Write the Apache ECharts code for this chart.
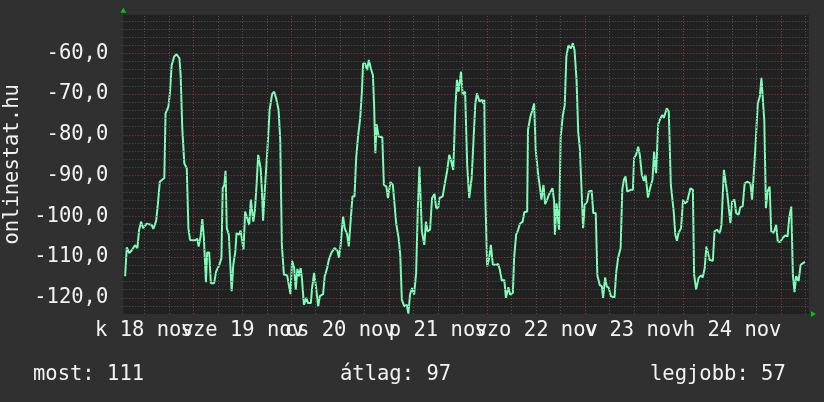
<!DOCTYPE html>
<html><head><meta charset="utf-8">
<script src="https://cdn.jsdelivr.net/npm/echarts@6/dist/echarts.min.js"></script>
<style>html,body{margin:0;padding:0;background:#303030}#c{width:824px;height:402px}</style>
</head><body><div id="c"></div>
<script>
// time in hours since midnight of 18 nov
const hours = [
-16.7,-16.3,-15.7,-15.1,-14.3,-13.7,-13.3,-12.8,-12.3,-11.4,-10.2,-9.8,-9.1,-8.7,-8.2,-7.1,-6.8,-6.1,-5.7,-5.3,-4.7,-4.1,-3.4,-3.1,-2.7,-2.2,-1.6,-1.2,-0.8,0.4,1.0,1.3,1.8,2.2,2.6,3.1,3.4,3.9,4.3,5.1,5.6,6.4,6.9,7.2,7.6,7.9,8.2,8.7,9.4,9.8,10.3,10.6,11.2,11.6,12.3,12.7,13.2,13.7,14.1,14.7,15.1,15.5,
15.9,16.5,16.8,17.1,17.5,17.9,18.3,18.7,19.3,19.8,20.3,20.9,21.3,21.7,22.2,23.0,23.4,23.8,24.2,24.7,25.1,25.5,25.9,26.3,26.6,27.1,27.7,28.1,28.8,29.1,29.6,30.0,30.6,31.0,31.8,32.2,32.8,33.2,33.8,34.6,35.3,35.7,36.1,36.7,37.1,37.7,38.1,38.6,39.0,39.5,39.9,40.4,40.9,41.3,41.6,42.1,42.6,43.0,43.5,44.0,44.3,44.6,44.9,45.4,46.3,46.7,47.3,47.7,48.3,48.9,
49.7,50.3,50.7,51.1,51.7,52.3,52.7,53.1,53.6,54.1,54.6,55.0,55.4,55.6,56.0,56.6,57.0,57.4,58.0,58.5,59.1,59.5,60.0,60.3,61.1,61.7,62.2,62.7,63.1,63.7,64.2,64.6,65.0,65.6,66.0,66.6,67.1,67.6,68.2,68.7,69.1,69.5,70.1,70.7,71.1,71.3,71.5,72.0,72.5,72.9,73.4,74.2,74.7,75.1,75.6,76.2,76.6,77.2,77.6,78.3,78.6,79.1,79.6,80.0,80.7,81.1,81.8,82.0,82.6,83.2,
83.5,83.9,84.5,84.9,85.3,85.8,86.2,86.7,87.1,88.0,88.4,88.6,89.0,89.4,89.6,90.0,90.5,91.0,91.4,91.9,92.5,93.0,93.4,93.9,94.3,94.7,95.1,95.5,95.9,96.5,96.9,97.6,98.0,98.6,99.0,99.6,100.1,100.4,100.9,101.3,101.8,102.3,103.2,103.6,104.1,104.7,105.1,105.5,105.9,106.3,107.2,107.7,108.0,108.5,109.0,109.4,109.9,110.4,110.8,111.4,111.9,112.5,112.9,113.1,113.4,113.9,114.3,114.9,115.3,116.0,116.5,117.0,
117.3,117.7,118.1,118.5,118.9,119.5,120.0,120.4,121.0,121.4,121.8,122.4,122.7,123.2,123.8,124.4,124.8,125.3,125.7,126.1,126.5,127.3,127.7,128.3,129.0,129.4,129.8,130.0,130.3,130.8,131.2,131.6,132.0,132.6,133.0,133.6,134.0,134.6,135.1,135.7,136.5,136.9,137.3,137.7,138.3,138.8,139.2,139.6,139.9,140.3,140.7,141.2,141.6,142.2,142.8,143.2,143.8,144.4,145.0,145.6,146.0,146.5,146.9,147.3,147.7,148.3,148.8,149.4,149.9
];
const signal = [
-114.7,-107.6,-109.0,-108.4,-107.1,-107.8,-103.5,-101.3,-102.9,-101.8,-102.1,-103.1,-101.1,-97.2,-91.5,-90.6,-74.7,-73.1,-69.4,-62.9,-60.8,-60.2,-61.2,-65.3,-78.4,-87.0,-88.2,-102.9,-105.8,-105.9,-105.5,-107.4,-104.9,-100.7,-105.3,-116.2,-108.9,-108.9,-116.4,-116.4,-113.5,-111.9,-110.2,-93.1,-92.3,-88.8,-102.9,-104.5,-118.4,-111.9,-108.6,-104.1,-104.5,-103.5,-108.2,-98.8,-100.4,-102.1,-95.9,-101.3,-98.4,-92.3,
-84.9,-88.2,-93.5,-101.1,-93.9,-93.5,-81.2,-73.9,-70.0,-69.4,-71.0,-73.9,-81.2,-107.0,-114.3,-114.5,-116.8,-119.1,-110.9,-112.5,-118.0,-112.9,-114.7,-112.7,-115.1,-121.7,-120.0,-121.3,-121.3,-117.6,-113.9,-116.8,-122.1,-119.6,-119.1,-114.7,-112.7,-110.7,-109.0,-107.8,-108.4,-110.2,-107.0,-100.0,-102.9,-104.5,-107.4,-100.4,-95.1,-95.1,-85.7,-80.0,-75.9,-69.4,-62.5,-62.5,-64.1,-61.6,-63.7,-65.3,-72.7,-84.5,-77.4,-80.4,-80.6,-92.3,-92.7,-95.5,-91.6,-92.3,
-101.7,-105.3,-109.4,-120.5,-122.1,-121.7,-123.9,-119.2,-117.6,-119.2,-113.9,-98.4,-87.8,-87.8,-103.7,-107.0,-101.3,-103.7,-103.3,-95.5,-94.5,-98.0,-98.0,-95.5,-95.1,-91.5,-88.8,-84.9,-86.1,-88.6,-73.5,-66.5,-69.4,-64.5,-70.2,-69.4,-87.4,-95.5,-90.6,-80.4,-72.3,-69.8,-71.8,-71.4,-72.3,-71.4,-93.5,-112.3,-110.2,-107.0,-111.9,-111.9,-111.7,-113.1,-115.8,-115.6,-120.0,-117.4,-119.2,-118.8,-110.2,-104.5,-103.3,-101.9,-101.3,-99.0,-98.8,-78.8,-75.5,-73.5,
-72.3,-83.7,-89.8,-92.7,-95.9,-92.3,-97.0,-95.9,-94.7,-93.1,-96.2,-104.5,-96.8,-97.0,-103.3,-80.8,-75.5,-72.7,-60.8,-58.0,-58.8,-57.5,-59.2,-66.5,-79.2,-83.3,-92.7,-102.9,-97.2,-96.4,-93.9,-93.7,-99.2,-99.2,-114.5,-116.9,-117.2,-120.0,-115.0,-117.2,-117.6,-119.6,-119.9,-113.9,-110.1,-107.8,-93.5,-91.0,-90.2,-93.9,-93.5,-93.5,-85.7,-84.9,-82.9,-84.9,-89.8,-91.3,-89.8,-95.4,-93.1,-91.0,-84.1,-87.4,-89.4,-77.4,-76.3,-75.1,-75.8,-73.5,-74.3,-92.3,
-92.7,-98.8,-104.5,-106.0,-104.1,-102.9,-95.9,-96.8,-96.4,-94.7,-93.1,-93.5,-114.3,-118.0,-115.1,-114.5,-115.0,-112.7,-107.4,-109.0,-110.7,-110.9,-103.7,-103.3,-104.1,-102.1,-101.7,-88.6,-90.6,-94.3,-98.0,-101.7,-96.4,-95.9,-99.2,-99.6,-97.8,-97.5,-91.9,-91.5,-91.9,-95.9,-89.8,-83.3,-72.3,-70.6,-66.0,-66.0,-76.7,-98.0,-93.9,-92.7,-103.7,-104.1,-102.1,-106.2,-106.3,-105.3,-104.7,-104.9,-100.4,-97.6,-114.3,-118.6,-114.7,-115.9,-111.9,-111.5,-111.2
];
const dayLabelHours = [-12, 12, 36, 60, 84, 108, 132];
const dayLabels = ['k 18 nov', 'sze 19 nov', 'cs 20 nov', 'p 21 nov', 'szo 22 nov', 'v 23 nov', 'h 24 nov'];
const majorHours = [0, 24, 48, 72, 96, 120, 144];
const minorHours = [-12, -6, 6, 12, 18, 30, 36, 42, 54, 60, 66, 78, 84, 90, 102, 108, 114, 126, 132, 138, 150];
const yLabelValues = [-120, -110, -100, -90, -80, -70, -60];
const minorValues = [-122, -118, -116, -114, -112, -108, -106, -104, -102, -98, -96, -94, -92, -88, -86, -84, -82, -78, -76, -74, -72, -68, -66, -64, -62, -58, -56, -54, -52];
const yAxisTitle = 'onlinestat.hu';
const summaryLabels = ['most: 111', 'átlag: 97', 'legjobb: 57'];

const summaryX = [33, 340, 650];
const MONO = 'DejaVu Sans Mono';
const TXT = '#f2f2f2';
const minorStyle = { color: '#555555', type: [1, 2], width: 1 };
const majorStyle = { color: '#8e3e3e', type: [1, 2], width: 1 };
const ARROW = { show: true, onZero: false, lineStyle: { color: '#00c800', width: 0 }, symbol: ['none', 'triangle'], symbolSize: [6, 5], symbolOffset: [0, 4.5] };

// labels split over two overlaid axes so that neighbouring (overlapping) day labels are all drawn
const evenIdx = [0, 2, 4, 6], oddIdx = [1, 3, 5];
function dayAxis(idxs, withLine) {
  const vals = idxs.map(i => dayLabelHours[i]);
  return {
    type: 'value', min: -17.15, max: 150.85, position: 'bottom', offset: 0,
    axisLine: withLine ? ARROW : { show: false },
    axisTick: { show: false },
    splitLine: { show: false },
    axisLabel: {
      customValues: vals,
      hideOverlap: false, showMinLabel: true, showMaxLabel: true,
      color: TXT, fontFamily: MONO, fontSize: 20.5, margin: 6,
      formatter: v => { const i = dayLabelHours.findIndex(h => Math.abs(h - v) < 1e-6); return (i >= 0 && idxs.indexOf(i) >= 0) ? dayLabels[i] : ''; }
    }
  };
}

const chart = echarts.init(document.getElementById('c'), null, { renderer: 'canvas' });
const gridLines = []
  .concat(minorValues.map(v => ({ yAxis: v, lineStyle: minorStyle })))
  .concat(minorHours.map(h => ({ xAxis: h, lineStyle: minorStyle })))
  .concat(yLabelValues.map(v => ({ yAxis: v, lineStyle: majorStyle })))
  .concat(majorHours.map(h => ({ xAxis: h, lineStyle: majorStyle })));

chart.setOption({
  animation: false,
  backgroundColor: '#303030',
  grid: {
    left: 123.3, right: 15, top: 14.7, bottom: 87.9,
    show: true, backgroundColor: '#212121', borderWidth: 0,
    containLabel: false, outerBoundsMode: 'none'
  },
  xAxis: [dayAxis(evenIdx, true), dayAxis(oddIdx, false)],
  yAxis: {
    type: 'value', min: -124, max: -50.5, interval: 2,
    name: yAxisTitle, nameLocation: 'middle', nameRotate: 90, nameGap: 100,
    nameTextStyle: { color: TXT, fontFamily: MONO, fontSize: 20.5 },
    axisLine: ARROW,
    axisTick: { show: false },
    splitLine: { show: false },
    axisLabel: {
      color: TXT, fontFamily: MONO, fontSize: 20.5, margin: 15,
      formatter: v => yLabelValues.some(y => Math.abs(y - v) < 1e-6) ? v.toFixed(1).replace('.', ',') : ''
    }
  },
  series: [
    {
      type: 'line', data: [], silent: true, z: 1, xAxisIndex: 0,
      markLine: { silent: true, animation: false, symbol: ['none', 'none'], label: { show: false }, emphasis: { disabled: true }, data: gridLines }
    },
    {
      type: 'line', z: 3, silent: true, xAxisIndex: 0,
      data: hours.map((h, i) => [h, signal[i]]),
      showSymbol: false, symbol: 'none',
      lineStyle: { color: '#7ffcb8', width: 2 },
      emphasis: { disabled: true }
    }
  ],
  graphic: summaryLabels.map((t, i) => ({
    type: 'text', x: summaryX[i], y: 375, silent: true,
    style: { text: t, fill: TXT, fontFamily: MONO, fontSize: 20.5, font: '20.5px "DejaVu Sans Mono"', align: 'left', verticalAlign: 'middle' }
  }))
});
</script></body></html>
